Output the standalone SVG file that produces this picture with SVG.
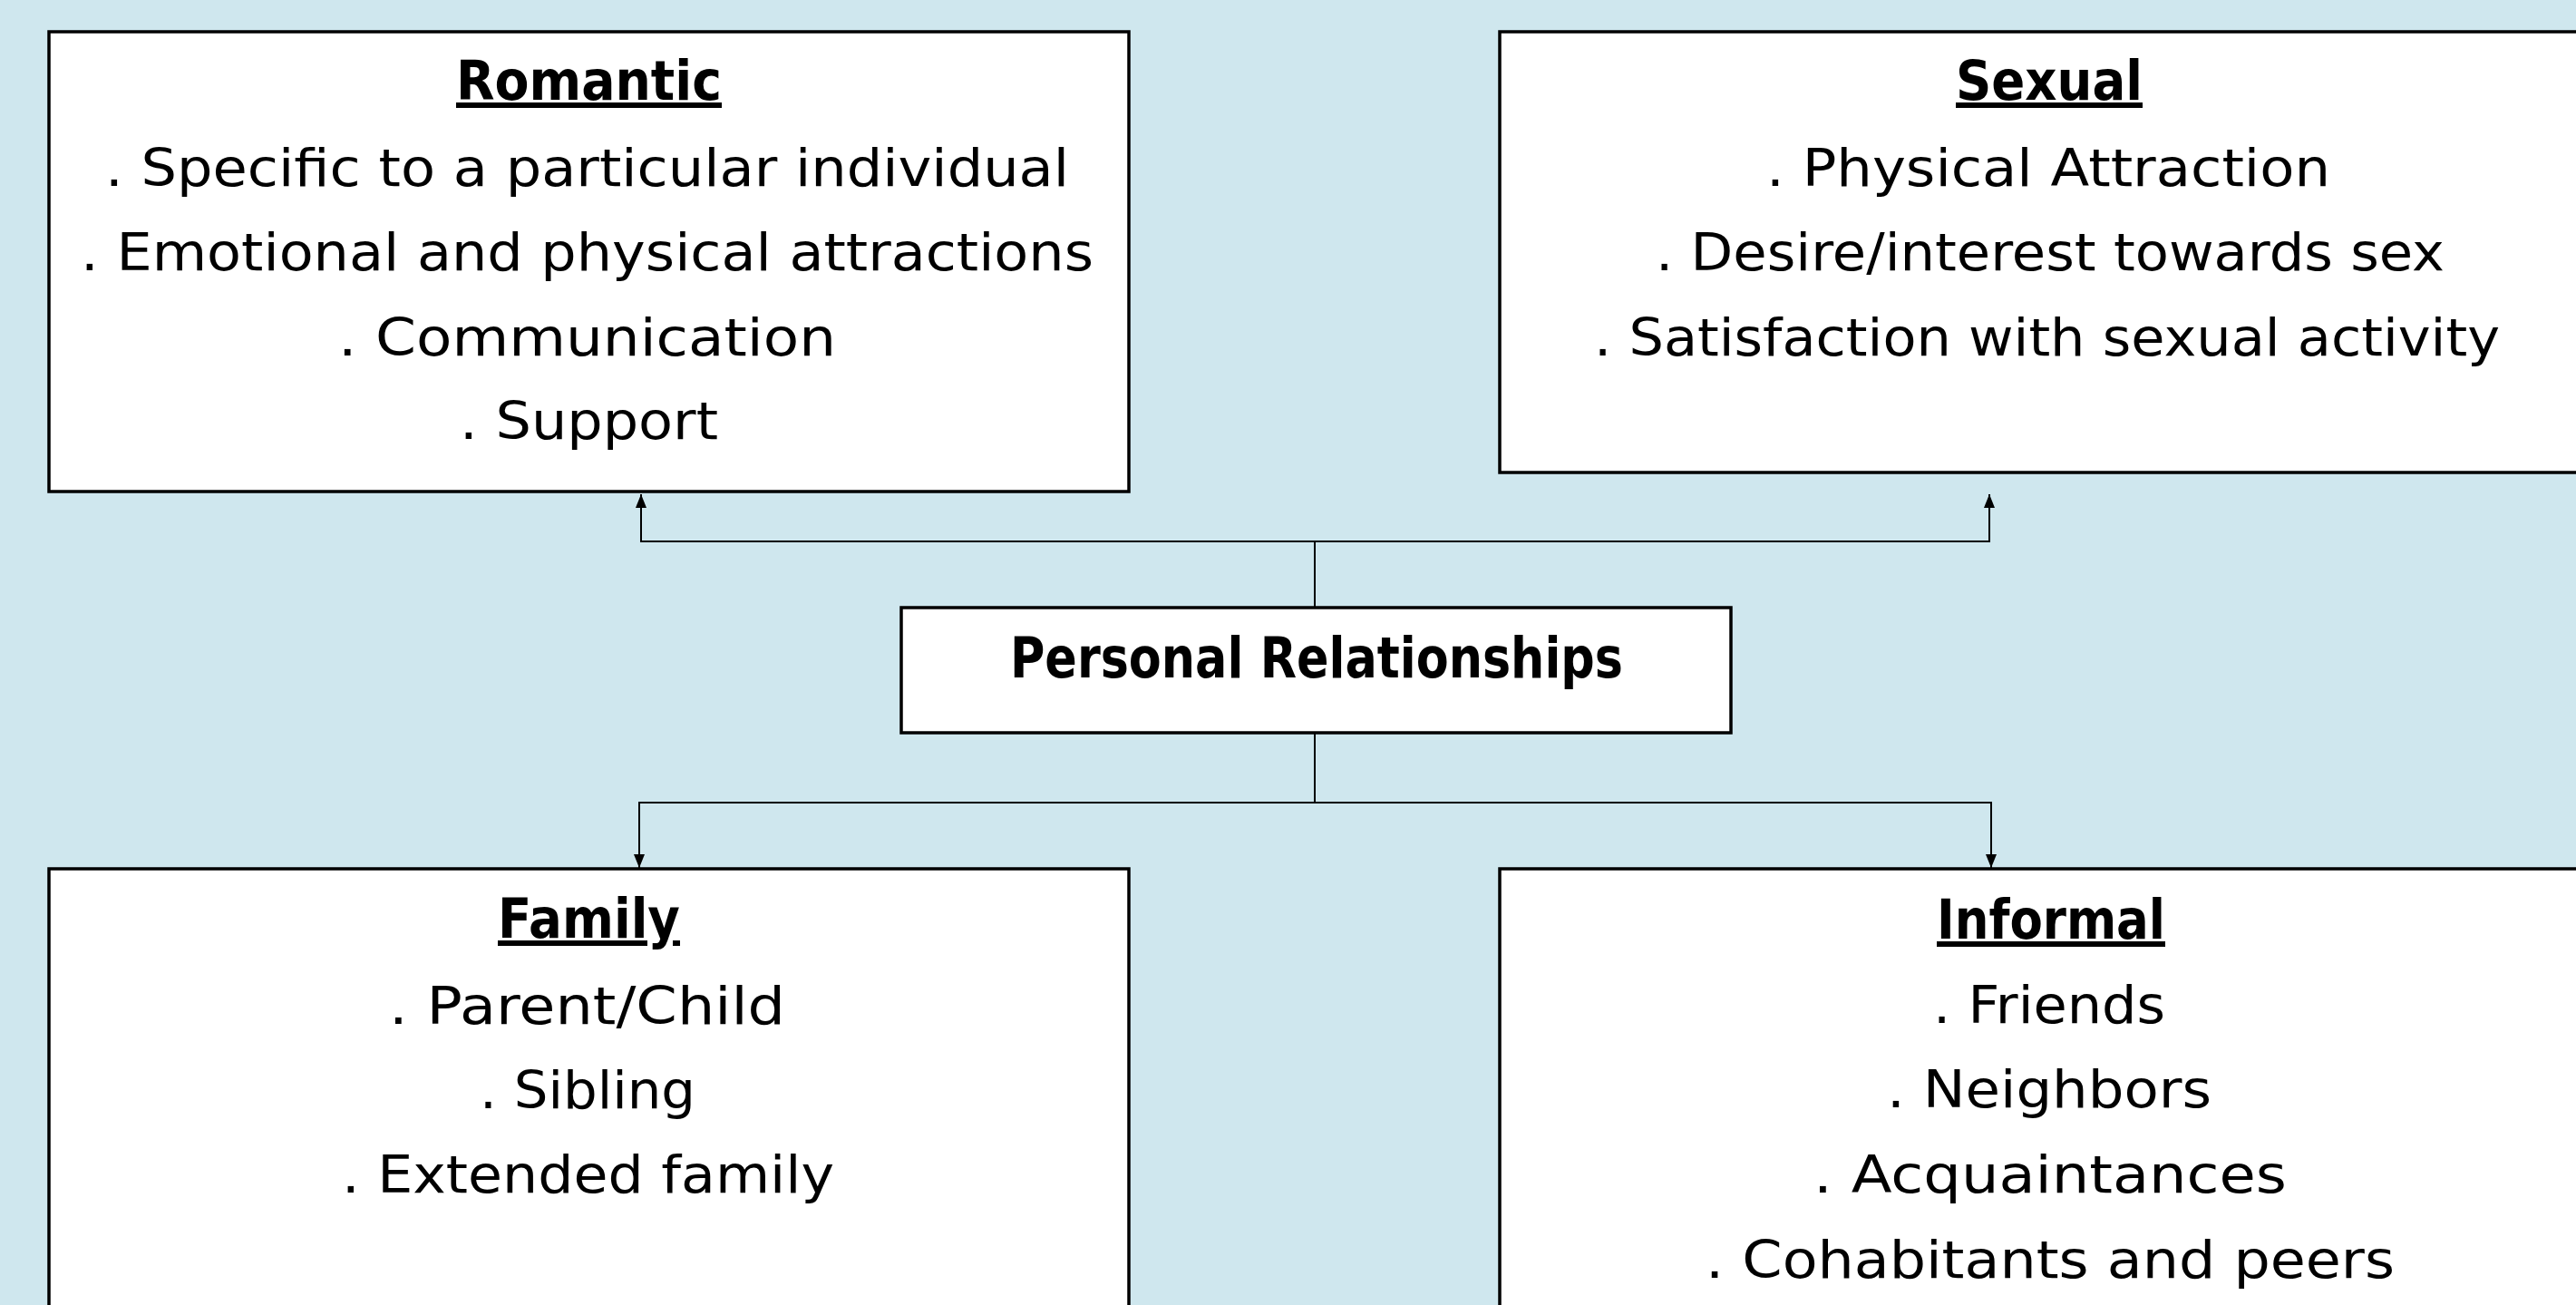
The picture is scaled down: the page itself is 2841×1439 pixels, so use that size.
<svg xmlns="http://www.w3.org/2000/svg" width="2841" height="1439" viewBox="0 0 2841 1439">
  <defs>
    <style>
      .box { fill: #ffffff; stroke: #000000; stroke-width: 3.5; }
      .item { font-family: "DejaVu Sans", "Liberation Sans", sans-serif; font-size: 57px; fill: #000000; }
      .title { font-family: "DejaVu Sans", "Liberation Sans", sans-serif; font-size: 60px; font-weight: bold; fill: #000000; text-decoration: underline; text-decoration-thickness: 5px; text-underline-offset: 6px; }
      .main { font-family: "DejaVu Sans", "Liberation Sans", sans-serif; font-size: 62px; font-weight: bold; fill: #000000; }
      .conn { fill: none; stroke: #000000; stroke-width: 2; }
    </style>
    <marker id="arrow" markerUnits="userSpaceOnUse" markerWidth="14" markerHeight="16" refX="15" refY="6" orient="auto">
      <path d="M0,0 L15,6 L0,12 Z" fill="#000000"/>
    </marker>
  </defs>
  <rect x="0" y="0" width="2841" height="1439" fill="#CFE7EE"/>

  <g id="connectors">
    <path class="conn" d="M1450,670 L1450,597"/>
    <path class="conn" d="M1450,597 L707,597 L707,545" marker-end="url(#arrow)"/>
    <path class="conn" d="M1450,597 L2194,597 L2194,545" marker-end="url(#arrow)"/>
    <path class="conn" d="M1450,808 L1450,885"/>
    <path class="conn" d="M1450,885 L705,885 L705,957" marker-end="url(#arrow)"/>
    <path class="conn" d="M1450,885 L2196,885 L2196,957" marker-end="url(#arrow)"/>
  </g>

  <g id="romantic">
    <rect class="box" x="54" y="35" width="1191" height="507"/>
    <text class="title" x="503" y="110" textLength="293" lengthAdjust="spacingAndGlyphs">Romantic</text>
    <text class="item" x="116" y="205" textLength="1063" lengthAdjust="spacingAndGlyphs">. Specific to a particular individual</text>
    <text class="item" x="89" y="298" textLength="1117" lengthAdjust="spacingAndGlyphs">. Emotional and physical attractions</text>
    <text class="item" x="373" y="392" textLength="549" lengthAdjust="spacingAndGlyphs">. Communication</text>
    <text class="item" x="507" y="484" textLength="285" lengthAdjust="spacingAndGlyphs">. Support</text>
  </g>

  <g id="sexual">
    <rect class="box" x="1654" y="35" width="1214" height="486"/>
    <text class="title" x="2157" y="110" textLength="206" lengthAdjust="spacingAndGlyphs">Sexual</text>
    <text class="item" x="1948" y="205" textLength="622" lengthAdjust="spacingAndGlyphs">. Physical Attraction</text>
    <text class="item" x="1826" y="298" textLength="870" lengthAdjust="spacingAndGlyphs">. Desire/interest towards sex</text>
    <text class="item" x="1758" y="392" textLength="999" lengthAdjust="spacingAndGlyphs">. Satisfaction with sexual activity</text>
  </g>

  <g id="personal-relationships">
    <rect class="box" x="994" y="670" width="915" height="138"/>
    <text class="main" x="1114" y="747" textLength="676" lengthAdjust="spacingAndGlyphs">Personal Relationships</text>
  </g>

  <g id="family">
    <rect class="box" x="54" y="958" width="1191" height="520"/>
    <text class="title" x="549" y="1034" textLength="201" lengthAdjust="spacingAndGlyphs">Family</text>
    <text class="item" x="429" y="1129" textLength="437" lengthAdjust="spacingAndGlyphs">. Parent/Child</text>
    <text class="item" x="529" y="1222" textLength="238" lengthAdjust="spacingAndGlyphs">. Sibling</text>
    <text class="item" x="377" y="1315" textLength="543" lengthAdjust="spacingAndGlyphs">. Extended family</text>
  </g>

  <g id="informal">
    <rect class="box" x="1654" y="958" width="1214" height="520"/>
    <text class="title" x="2136" y="1035" textLength="252" lengthAdjust="spacingAndGlyphs">Informal</text>
    <text class="item" x="2132" y="1128" textLength="256" lengthAdjust="spacingAndGlyphs">. Friends</text>
    <text class="item" x="2081" y="1221" textLength="358" lengthAdjust="spacingAndGlyphs">. Neighbors</text>
    <text class="item" x="2000" y="1315" textLength="522" lengthAdjust="spacingAndGlyphs">. Acquaintances</text>
    <text class="item" x="1881" y="1409" textLength="760" lengthAdjust="spacingAndGlyphs">. Cohabitants and peers</text>
  </g>
</svg>
